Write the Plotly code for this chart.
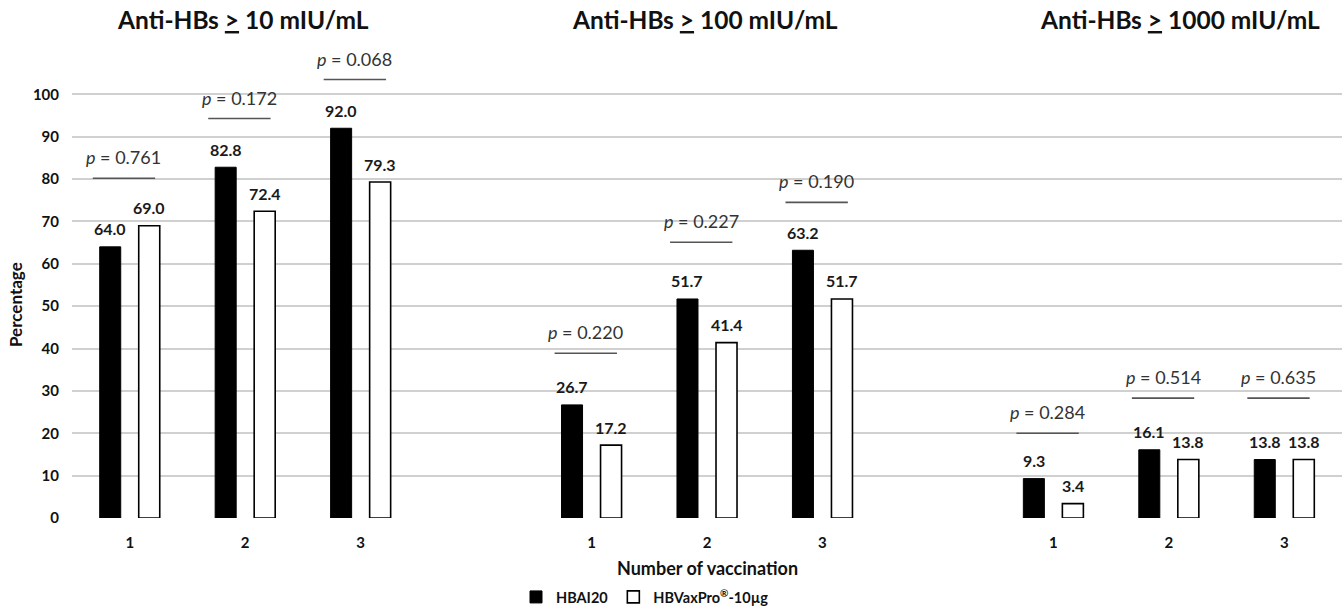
import plotly.graph_objects as go

# ---- data ----
panel_titles = ["Anti-HBs <u>></u> 10 mIU/mL", "Anti-HBs <u>></u> 100 mIU/mL", "Anti-HBs <u>></u> 1000 mIU/mL"]
doses = ["1", "2", "3"]
hbai20 = [64.0, 82.8, 92.0, 26.7, 51.7, 63.2, 9.3, 16.1, 13.8]
hbvaxpro = [69.0, 72.4, 79.3, 17.2, 41.4, 51.7, 3.4, 13.8, 13.8]
p_values = ["0.761", "0.172", "0.068", "0.220", "0.227", "0.190", "0.284", "0.514", "0.635"]
p_line_y = [80.2, 94.3, 103.5, 38.9, 65.1, 74.5, 20.0, 28.3, 28.3]
y_ticks = [0, 10, 20, 30, 40, 50, 60, 70, 80, 90, 100]

FONT = "Lato"
W, H = 1344, 613
L, R, T, B = 72, 2, 52, 95
plot_w = W - L - R
plot_h = H - T - B


def px_x(px):
    return (px - L) / plot_w


def px_y(py):
    return (H - B - py) / plot_h


# category slot positions: three panels separated by an empty slot
slots = [p * 4 + d for p in range(3) for d in range(3)]
off = 0.169
bw = 0.182

fig = go.Figure()
fig.add_trace(go.Bar(
    name="<b>HBAI20</b>", x=[s - off for s in slots], y=hbai20, width=bw,
    marker=dict(color="black", line=dict(color="black", width=1)),
))
fig.add_trace(go.Bar(
    name="<b>HBVaxPro<sup>®</sup>-10µg</b>", x=[s + off for s in slots], y=hbvaxpro, width=bw,
    marker=dict(color="white", line=dict(color="black", width=1.6)),
))

ann = []
for s, a, b in zip(slots, hbai20, hbvaxpro):
    for xx, v in ((s - off, a), (s + off, b)):
        ann.append(dict(x=xx, y=v, xref="x", yref="y", text=f"<b>{v:.1f}</b>",
                        showarrow=False, yanchor="middle", yshift=18,
                        font=dict(family=FONT, size=16, color="#1a1a1a")))

shapes = []
for s, pv, ly in zip(slots, p_values, p_line_y):
    shapes.append(dict(type="line", xref="x", yref="y", x0=s - 0.32, x1=s + 0.22,
                       y0=ly, y1=ly, line=dict(color="#555555", width=1.6)))
    ann.append(dict(x=s - 0.05, y=ly, xref="x", yref="y", text=f"<i>p</i> = {pv}",
                    showarrow=False, yanchor="middle", yshift=21,
                    font=dict(family=FONT, size=18, color="#333333")))

title_px = [243, 705, 1180]
for t, tx in zip(panel_titles, title_px):
    ann.append(dict(x=px_x(tx), y=px_y(20), xref="paper", yref="paper",
                    xanchor="center", yanchor="middle", text=f"<b>{t}</b>", showarrow=False,
                    font=dict(family=FONT, size=24.5, color="#111111")))

ann.append(dict(x=px_x(707), y=px_y(568), xref="paper", yref="paper",
                xanchor="center", yanchor="middle", text="<b>Number of vaccination</b>",
                showarrow=False, font=dict(family=FONT, size=18, color="#111111")))
ann.append(dict(x=px_x(15), y=px_y(305), xref="paper", yref="paper", text="<b>Percentage</b>",
                textangle=-90, showarrow=False, xanchor="center", yanchor="middle",
                font=dict(family=FONT, size=17, color="#111111")))

fig.update_layout(
    width=W, height=H,
    margin=dict(l=L, r=R, t=T, b=B, autoexpand=False),
    paper_bgcolor="white", plot_bgcolor="white",
    font=dict(family=FONT, color="#111111"),
    barmode="overlay",
    showlegend=True,
    legend=dict(orientation="h", x=px_x(516), xanchor="left", y=px_y(597),
                yanchor="middle", font=dict(family=FONT, size=14.5, color="#111111"),
                traceorder="normal", itemwidth=30, bgcolor="rgba(0,0,0,0)"),
    annotations=ann,
    shapes=shapes,
    xaxis=dict(range=[-0.5, 10.5], tickvals=slots, ticktext=[f"<b>{d}</b>" for d in doses * 3],
               showgrid=False, zeroline=False, showline=False, ticks="",
               ticklabelstandoff=14, tickfont=dict(family=FONT, size=15, color="#111111")),
    yaxis=dict(range=[0, 110], tickvals=y_ticks, ticktext=[f"<b>{v}</b>" for v in y_ticks],
               showgrid=True, gridcolor="#d0d0d0", gridwidth=1.5, zeroline=False,
               showline=False, ticks="", ticklabelstandoff=12,
               tickfont=dict(family=FONT, size=15, color="#111111")),
)
fig.write_html("out.html", config={"displayModeBar": False},
               post_script="document.body.style.margin='0';")
